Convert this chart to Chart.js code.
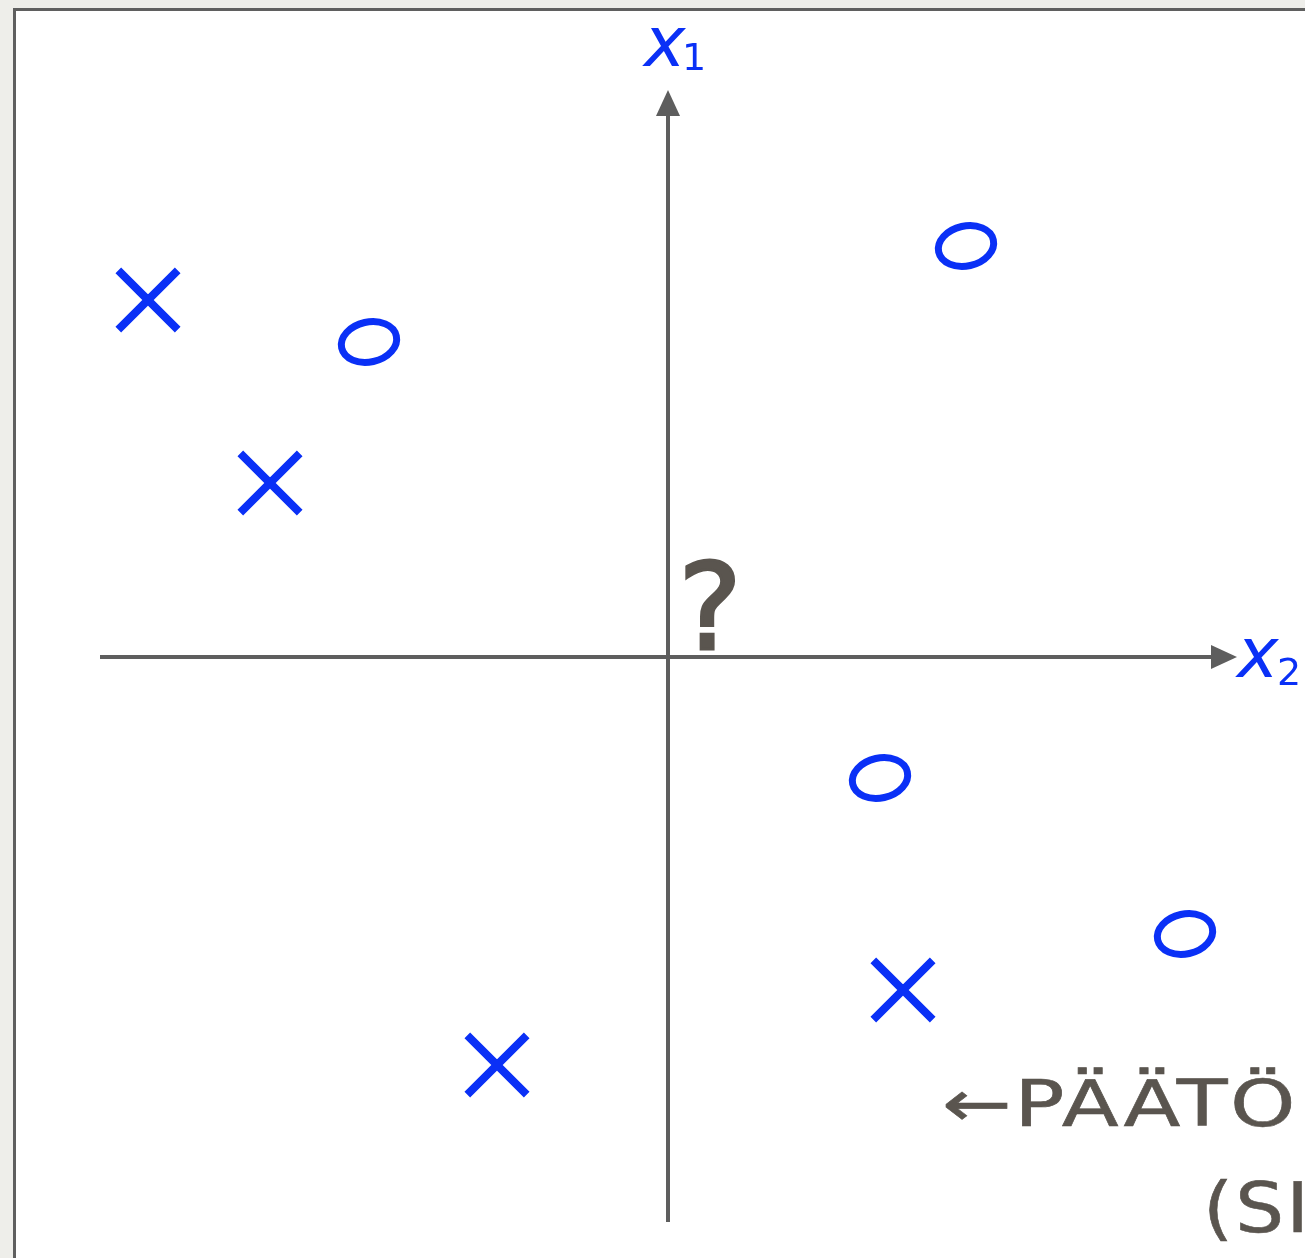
<!DOCTYPE html>
<html>
<head>
<meta charset="utf-8">
<script src="https://cdn.jsdelivr.net/npm/chart.js@4/dist/chart.umd.min.js"></script>
<style>
  html, body { margin: 0; padding: 0; overflow: hidden; background: #eeeeea; width: 1305px; height: 1258px; }
  #frame { position: absolute; left: 13px; top: 8px; width: 1400px; height: 1400px;
           border-left: 3px solid #5f5f5f; border-top: 3px solid #5f5f5f; background: #ffffff; }
  #c { position: absolute; left: 0; top: 0; }
</style>
</head>
<body>
<div id="frame"></div>
<canvas id="c" width="1305" height="1258"></canvas>
<script>
// ---- data (in plot units) ----
const xClassX = [-5.20, -3.98, -1.71, 2.35];
const xClassY = [3.57, 1.74, -4.08, -3.33];
const oClassX = [-2.99, 2.98, 2.12, 5.17];
const oClassY = [3.15, 4.11, -1.21, -2.77];
const queryPoint = [0.42, 0.52];
const axisRange = { xFrom: -5.68, xTo: 5.69, yFrom: -5.65, yTo: 5.67 };
const viewRange = { xMin: -6.68, xMax: 6.37, yMin: -6.01, yMax: 6.57 };
const axisLabels = { x: ['x', '2'], y: ['x', '1'] };
const questionLabel = '?';
const boundaryText = ['\u2190P\u00c4\u00c4T\u00d6', '(SI'];

const BLUE = '#0a30f6';
const AXIS = '#5e5e5e';
const INK = '#5a554f';

// hand-drawn-like ellipse used as point style for the O class
function makeO() {
  const cv = document.createElement('canvas');
  cv.width = 74; cv.height = 60;
  const g = cv.getContext('2d');
  g.strokeStyle = BLUE; g.lineWidth = 7; g.lineCap = 'round';
  g.beginPath();
  g.ellipse(37, 30, 28, 20, -0.22, 0, Math.PI * 2);
  g.stroke();
  return cv;
}
const oImg = makeO();

function stretchedText(ctx, text, x, y, sx) {
  ctx.save();
  ctx.scale(sx, 1);
  ctx.fillText(text, x / sx, y);
  ctx.strokeText(text, x / sx, y);
  ctx.restore();
}

const drawPlugin = {
  id: 'sketch',
  beforeDatasetsDraw(chart) {
    const ctx = chart.ctx, xs = chart.scales.x, ys = chart.scales.y;
    const x0 = xs.getPixelForValue(0), y0 = ys.getPixelForValue(0);
    const xa = xs.getPixelForValue(axisRange.xFrom), xb = xs.getPixelForValue(axisRange.xTo);
    const ya = ys.getPixelForValue(axisRange.yFrom), yb = ys.getPixelForValue(axisRange.yTo);
    ctx.save();
    ctx.strokeStyle = AXIS; ctx.fillStyle = AXIS; ctx.lineWidth = 4;
    ctx.beginPath(); ctx.moveTo(xa, y0); ctx.lineTo(xb - 20, y0); ctx.stroke();
    ctx.beginPath(); ctx.moveTo(x0, ya); ctx.lineTo(x0, yb + 20); ctx.stroke();
    // arrowheads
    ctx.beginPath(); ctx.moveTo(xb, y0); ctx.lineTo(xb - 26, y0 - 12); ctx.lineTo(xb - 26, y0 + 12); ctx.closePath(); ctx.fill();
    ctx.beginPath(); ctx.moveTo(x0, yb); ctx.lineTo(x0 - 12, yb + 26); ctx.lineTo(x0 + 12, yb + 26); ctx.closePath(); ctx.fill();
    // axis labels
    ctx.fillStyle = BLUE;
    ctx.textBaseline = 'alphabetic';
    ctx.font = 'italic 70px "DejaVu Sans"';
    ctx.fillText(axisLabels.y[0], x0 - 24, 66);
    ctx.font = '38px "DejaVu Sans"';
    ctx.fillText(axisLabels.y[1], x0 + 14, 70);
    ctx.font = 'italic 70px "DejaVu Sans"';
    ctx.fillText(axisLabels.x[0], xb + 0, y0 + 20);
    ctx.font = '38px "DejaVu Sans"';
    ctx.fillText(axisLabels.x[1], xb + 40, y0 + 28);
    ctx.restore();
  },
  afterDatasetsDraw(chart) {
    const ctx = chart.ctx, xs = chart.scales.x, ys = chart.scales.y;
    ctx.save();
    ctx.fillStyle = INK;
    ctx.strokeStyle = INK;
    ctx.textAlign = 'center';
    ctx.font = '120px "DejaVu Sans"';
    ctx.lineWidth = 3;
    const qx = xs.getPixelForValue(queryPoint[0]), qy = ys.getPixelForValue(queryPoint[1]);
    ctx.fillText(questionLabel, qx, qy + 44);
    ctx.strokeText(questionLabel, qx, qy + 44);
    ctx.textAlign = 'left';
    ctx.lineWidth = 0.6;
    ctx.font = '64px "DejaVu Sans"';
    ctx.letterSpacing = '2px';
    stretchedText(ctx, boundaryText[0], 942, 1126, 1.3);
    ctx.font = '70px "DejaVu Sans"';
    ctx.letterSpacing = '2px';
    stretchedText(ctx, boundaryText[1], 1203, 1232, 1.1);
    ctx.restore();
  }
};

new Chart(document.getElementById('c'), {
  type: 'scatter',
  data: {
    datasets: [
      {
        label: 'x',
        data: xClassX.map((v, i) => ({ x: v, y: xClassY[i] })),
        pointStyle: 'crossRot',
        pointRadius: 42,
        pointBorderWidth: 8,
        borderColor: BLUE,
        backgroundColor: BLUE
      },
      {
        label: 'o',
        data: oClassX.map((v, i) => ({ x: v, y: oClassY[i] })),
        pointStyle: oImg,
        pointRadius: 30,
        borderColor: BLUE,
        backgroundColor: BLUE
      }
    ]
  },
  options: {
    responsive: false,
    animation: false,
    layout: { padding: 0, autoPadding: false },
    clip: false,
    plugins: { legend: { display: false }, tooltip: { enabled: false } },
    scales: {
      x: { type: 'linear', min: viewRange.xMin, max: viewRange.xMax, display: false },
      y: { type: 'linear', min: viewRange.yMin, max: viewRange.yMax, display: false }
    }
  },
  plugins: [drawPlugin]
});
</script>
</body>
</html>
